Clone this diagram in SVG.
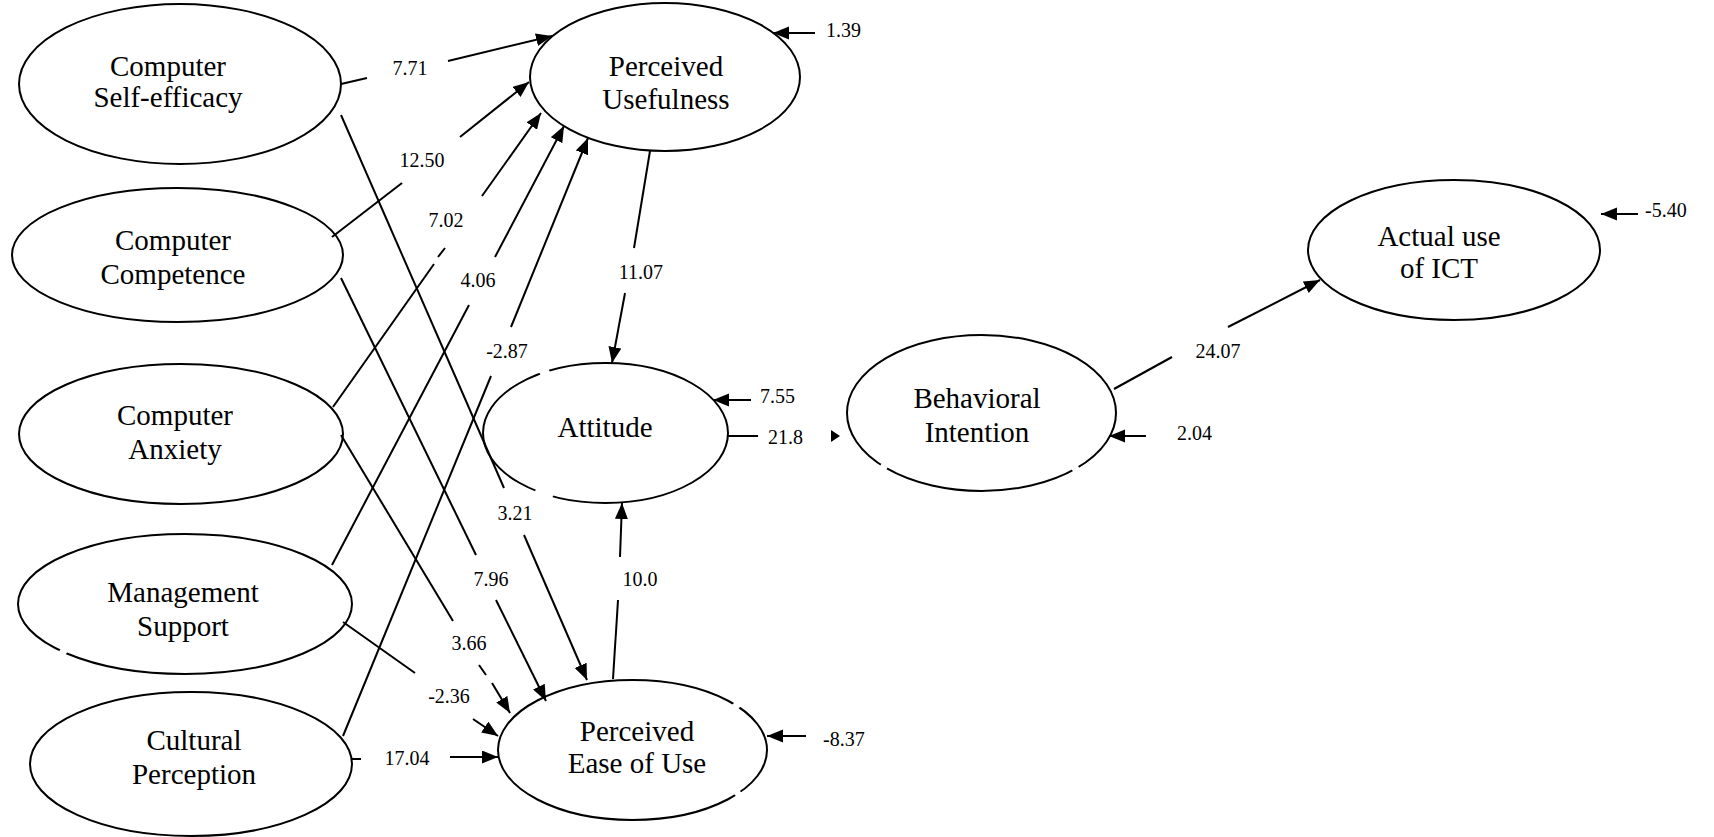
<svg xmlns="http://www.w3.org/2000/svg" width="1714" height="837" viewBox="0 0 1714 837">
<style>
  .node ellipse { fill: #ffffff; stroke: #000000; stroke-width: 2; }
  .node text { font-family: "Liberation Serif", "Times New Roman", serif; font-size: 29px; fill: #000000; text-anchor: middle; }
  .gap { stroke: #ffffff; stroke-width: 6; fill: none; }
  #connectors line { stroke: #000000; stroke-width: 2; fill: none; }
  #connectors line.arr { marker-end: url(#ah); }
  .lbl { font-family: "Liberation Serif", "Times New Roman", serif; font-size: 20px; fill: #000000; }
  .lc { text-anchor: middle; }
</style>
<defs>
  <marker id="ah" markerUnits="userSpaceOnUse" markerWidth="17" markerHeight="14" refX="16" refY="6.5" orient="auto">
    <path d="M0,0 L16,6.5 L0,13 z" fill="#000000"/>
  </marker>
</defs>
<rect x="0" y="0" width="1714" height="837" fill="#ffffff"/>

<g id="node-cse" class="node">
  <ellipse cx="180" cy="84" rx="161" ry="80"/>
  <text x="168" y="76">Computer</text>
  <text x="168" y="107">Self-efficacy</text>
</g>
<g id="node-cc" class="node">
  <ellipse cx="177.5" cy="255" rx="165.5" ry="67"/>
  <text x="173" y="250">Computer</text>
  <text x="173" y="284">Competence</text>
</g>
<g id="node-ca" class="node">
  <ellipse cx="181" cy="434" rx="162" ry="70"/>
  <text x="175" y="425">Computer</text>
  <text x="175" y="459">Anxiety</text>
</g>
<g id="node-ms" class="node">
  <ellipse cx="185" cy="604" rx="167" ry="70"/>
  <line class="gap" x1="60" y1="650" x2="66" y2="654"/>
  <text x="183" y="602">Management</text>
  <text x="183" y="636">Support</text>
</g>
<g id="node-cp" class="node">
  <ellipse cx="191" cy="764" rx="161" ry="72"/>
  <text x="194" y="750">Cultural</text>
  <text x="194" y="784">Perception</text>
</g>
<g id="node-pu" class="node">
  <ellipse cx="665" cy="77" rx="135" ry="74"/>
  <text x="666" y="76">Perceived</text>
  <text x="666" y="109">Usefulness</text>
</g>
<g id="node-att" class="node">
  <ellipse cx="605.5" cy="433" rx="122.5" ry="70"/>
  <line class="gap" x1="540" y1="374" x2="549" y2="370"/>
  <line class="gap" x1="536" y1="489" x2="553" y2="496"/>
  <text x="605" y="437">Attitude</text>
</g>
<g id="node-peou" class="node">
  <ellipse cx="632.5" cy="750" rx="134.5" ry="70"/>
  <line class="gap" x1="734" y1="703" x2="739" y2="708"/>
  <line class="gap" x1="735" y1="795" x2="740" y2="791"/>
  <text x="637" y="741">Perceived</text>
  <text x="637" y="773">Ease of Use</text>
</g>
<g id="node-bi" class="node">
  <ellipse cx="981.5" cy="413" rx="134.5" ry="78"/>
  <line class="gap" x1="880" y1="466" x2="886" y2="470"/>
  <line class="gap" x1="1072" y1="470" x2="1078" y2="466"/>
  <text x="977" y="408">Behavioral</text>
  <text x="977" y="442">Intention</text>
</g>
<g id="node-au" class="node">
  <ellipse cx="1454" cy="250" rx="146" ry="70"/>
  <text x="1439" y="246">Actual use</text>
  <text x="1439" y="278">of ICT</text>
</g>

<g id="connectors">
  <!-- CSE -> PU 7.71 -->
  <line x1="341" y1="84" x2="367" y2="78"/>
  <line class="arr" x1="448" y1="61" x2="552" y2="36"/>
  <text class="lbl lc" x="410" y="75">7.71</text>
  <!-- CC -> PU 12.50 -->
  <line x1="332" y1="237" x2="402" y2="183"/>
  <line class="arr" x1="460" y1="137" x2="529" y2="82"/>
  <text class="lbl lc" x="422" y="167">12.50</text>
  <!-- CA -> PU 7.02 -->
  <line x1="333" y1="407" x2="434" y2="264"/>
  <line x1="438" y1="257" x2="445" y2="248"/>
  <line class="arr" x1="482" y1="196" x2="541" y2="113"/>
  <text class="lbl lc" x="446" y="227">7.02</text>
  <!-- MS -> PU 4.06 -->
  <line x1="332" y1="565" x2="469" y2="305"/>
  <line class="arr" x1="495" y1="257" x2="564" y2="126"/>
  <text class="lbl lc" x="478" y="287">4.06</text>
  <!-- CP -> PU -2.87 -->
  <line x1="343" y1="736" x2="491" y2="376"/>
  <line class="arr" x1="511" y1="327" x2="588" y2="138"/>
  <text class="lbl lc" x="507" y="358">-2.87</text>
  <!-- PU -> Attitude 11.07 -->
  <line x1="650" y1="151" x2="634" y2="248"/>
  <line class="arr" x1="625" y1="293" x2="612" y2="363"/>
  <text class="lbl lc" x="641" y="279">11.07</text>
  <!-- CSE -> PEOU 3.21 -->
  <line x1="341" y1="115" x2="504" y2="488"/>
  <line class="arr" x1="524" y1="535" x2="587" y2="680"/>
  <text class="lbl lc" x="515" y="520">3.21</text>
  <!-- CC -> PEOU 7.96 -->
  <line x1="341" y1="278" x2="476" y2="555"/>
  <line class="arr" x1="496" y1="600" x2="546" y2="701"/>
  <text class="lbl lc" x="491" y="586">7.96</text>
  <!-- CA -> PEOU 3.66 -->
  <line x1="341" y1="435" x2="453" y2="621"/>
  <line x1="479" y1="665" x2="486" y2="675"/>
  <line class="arr" x1="492" y1="683" x2="510" y2="713"/>
  <text class="lbl lc" x="469" y="650">3.66</text>
  <!-- MS -> PEOU -2.36 -->
  <line x1="343" y1="622" x2="415" y2="673"/>
  <line class="arr" x1="473" y1="719" x2="498" y2="736"/>
  <text class="lbl lc" x="449" y="703">-2.36</text>
  <!-- CP -> PEOU 17.04 -->
  <line x1="352" y1="759" x2="361" y2="759"/>
  <line class="arr" x1="450" y1="757" x2="498" y2="757"/>
  <text class="lbl lc" x="407" y="765">17.04</text>
  <!-- PEOU -> Attitude 10.0 -->
  <line x1="613" y1="679" x2="618" y2="600"/>
  <line class="arr" x1="620" y1="557" x2="622" y2="503"/>
  <text class="lbl lc" x="640" y="586">10.0</text>
  <!-- Attitude -> BI 21.8 -->
  <line x1="728" y1="436" x2="758" y2="436"/>
  <polygon points="831,430 840,436 831,442" fill="#000000"/>
  <text class="lbl" x="768" y="444">21.8</text>
  <!-- BI -> AU 24.07 -->
  <line x1="1114" y1="389" x2="1172" y2="357"/>
  <line class="arr" x1="1228" y1="327" x2="1320" y2="280"/>
  <text class="lbl lc" x="1218" y="358">24.07</text>
  <!-- residuals -->
  <line class="arr" x1="815" y1="33" x2="773" y2="33"/>
  <text class="lbl" x="826" y="37">1.39</text>
  <line class="arr" x1="751" y1="400" x2="713" y2="400"/>
  <text class="lbl" x="760" y="403">7.55</text>
  <line class="arr" x1="1146" y1="436" x2="1109" y2="436"/>
  <text class="lbl" x="1177" y="440">2.04</text>
  <line class="arr" x1="806" y1="736" x2="767" y2="736"/>
  <text class="lbl" x="823" y="746">-8.37</text>
  <line class="arr" x1="1638" y1="214" x2="1601" y2="214"/>
  <text class="lbl" x="1645" y="217">-5.40</text>
</g>
</svg>
